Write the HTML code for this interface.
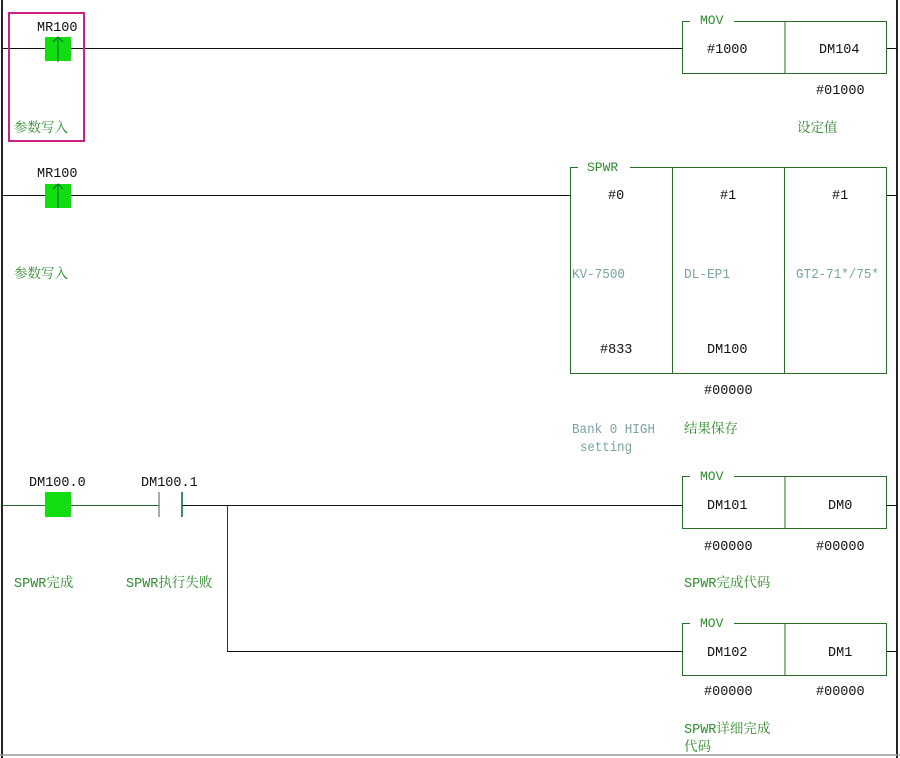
<!DOCTYPE html>
<html><head><meta charset="utf-8"><style>
html,body{margin:0;padding:0;background:#fff;width:900px;height:758px;overflow:hidden}
svg text{font-family:"Liberation Mono","Noto Serif CJK SC",monospace;font-size:13.5px}
.k{fill:#111}.g{fill:#2e8b2e}.c{fill:#7aa3a3}
</style></head><body>
<svg width="900" height="758" xmlns="http://www.w3.org/2000/svg">
<line x1="2" y1="0" x2="2" y2="758" stroke="#222" stroke-width="2"/>
<line x1="897" y1="0" x2="897" y2="758" stroke="#222" stroke-width="2"/>
<line x1="0" y1="755" x2="900" y2="755" stroke="#999" stroke-width="1.5"/>

<line x1="2" y1="48.5" x2="682" y2="48.5" stroke="#111"/>
<line x1="887" y1="48.5" x2="897" y2="48.5" stroke="#111"/>
<rect x="9" y="13" width="75" height="128" fill="none" stroke="#cc2288" stroke-width="2"/>
<rect x="45" y="37" width="26" height="24" fill="#11dd11"/>
<line x1="58" y1="37" x2="58" y2="62" stroke="#063"/>
<path d="M53 42 L58 37 L63 42" fill="none" stroke="#063"/>
<text x="37" y="31" class="k">MR100</text>
<text x="14" y="132" class="g">参数写入</text>
<rect x="682.5" y="21.5" width="204" height="52" fill="none" stroke="#2a6a2a"/>
<line x1="785" y1="21" x2="785" y2="74" stroke="#2a6a2a"/>
<rect x="690" y="14" width="44" height="12" fill="#fff"/>
<text x="700" y="24" class="g" style="font-size:13px">MOV</text>
<text x="707" y="53" class="k">#1000</text>
<text x="819" y="53" class="k">DM104</text>
<text x="816" y="94" class="k">#01000</text>
<text x="797" y="132" class="g">设定值</text>

<line x1="2" y1="195.5" x2="570" y2="195.5" stroke="#111"/>
<line x1="887" y1="195.5" x2="897" y2="195.5" stroke="#111"/>
<rect x="45" y="184" width="26" height="24" fill="#11dd11"/>
<line x1="58" y1="184" x2="58" y2="208" stroke="#063"/>
<path d="M53 189 L58 184 L63 189" fill="none" stroke="#063"/>
<text x="37" y="177" class="k">MR100</text>
<text x="14" y="278" class="g">参数写入</text>
<rect x="570.5" y="167.5" width="316" height="206" fill="none" stroke="#2a6a2a"/>
<line x1="672.5" y1="167" x2="672.5" y2="374" stroke="#2a6a2a"/>
<line x1="784.5" y1="167" x2="784.5" y2="374" stroke="#2a6a2a"/>
<rect x="578" y="160" width="52" height="12" fill="#fff"/>
<text x="587" y="171" class="g" style="font-size:13px">SPWR</text>
<text x="608" y="199" class="k">#0</text>
<text x="720" y="199" class="k">#1</text>
<text x="832" y="199" class="k">#1</text>
<text x="572" y="278" class="c" textLength="53" lengthAdjust="spacingAndGlyphs">KV-7500</text>
<text x="684" y="278" class="c" textLength="46" lengthAdjust="spacingAndGlyphs">DL-EP1</text>
<text x="796" y="278" class="c" textLength="83" lengthAdjust="spacingAndGlyphs">GT2-71*/75*</text>
<text x="600" y="353" class="k">#833</text>
<text x="707" y="353" class="k">DM100</text>
<text x="704" y="394" class="k">#00000</text>
<text x="572" y="433" class="c" textLength="83" lengthAdjust="spacingAndGlyphs">Bank 0 HIGH</text>
<text x="580" y="451" class="c" textLength="52" lengthAdjust="spacingAndGlyphs">setting</text>
<text x="684" y="433" class="g">结果保存</text>

<line x1="2" y1="505.5" x2="159" y2="505.5" stroke="#2a6a2a"/>
<line x1="182" y1="505.5" x2="682" y2="505.5" stroke="#111"/>
<line x1="887" y1="505.5" x2="897" y2="505.5" stroke="#111"/>
<rect x="45" y="492" width="26" height="25" fill="#11dd11"/>
<line x1="159" y1="492" x2="159" y2="517" stroke="#555"/>
<line x1="182" y1="492" x2="182" y2="517" stroke="#063" stroke-width="1.5"/>
<text x="29" y="486" class="k">DM100.0</text>
<text x="141" y="486" class="k">DM100.1</text>
<text x="14" y="587" class="g">SPWR完成</text>
<text x="126" y="587" class="g">SPWR执行失败</text>
<line x1="227.5" y1="505" x2="227.5" y2="651" stroke="#333"/>
<line x1="227" y1="651.5" x2="682" y2="651.5" stroke="#111"/>
<line x1="887" y1="651.5" x2="897" y2="651.5" stroke="#111"/>

<rect x="682.5" y="476.5" width="204" height="52" fill="none" stroke="#2a6a2a"/>
<line x1="785" y1="476" x2="785" y2="529" stroke="#2a6a2a"/>
<rect x="690" y="469" width="44" height="12" fill="#fff"/>
<text x="700" y="480" class="g" style="font-size:13px">MOV</text>
<text x="707" y="509" class="k">DM101</text>
<text x="828" y="509" class="k">DM0</text>
<text x="704" y="550" class="k">#00000</text>
<text x="816" y="550" class="k">#00000</text>
<text x="684" y="587" class="g">SPWR完成代码</text>

<rect x="682.5" y="623.5" width="204" height="52" fill="none" stroke="#2a6a2a"/>
<line x1="785" y1="623" x2="785" y2="676" stroke="#2a6a2a"/>
<rect x="690" y="616" width="44" height="12" fill="#fff"/>
<text x="700" y="627" class="g" style="font-size:13px">MOV</text>
<text x="707" y="656" class="k">DM102</text>
<text x="828" y="656" class="k">DM1</text>
<text x="704" y="695" class="k">#00000</text>
<text x="816" y="695" class="k">#00000</text>
<text x="684" y="733" class="g">SPWR详细完成</text>
<text x="684" y="751" class="g">代码</text>
</svg>
</body></html>
